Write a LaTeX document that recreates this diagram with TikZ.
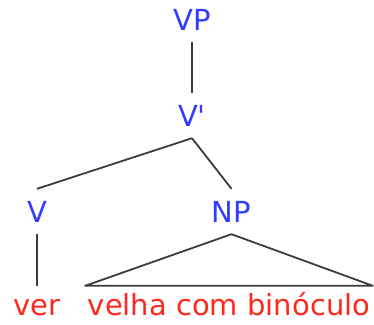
\documentclass[tikz,border=0pt]{standalone}
\usepackage{fontspec}
\newfontfamily\dejavu{DejaVu Sans}
\definecolor{catblue}{RGB}{50,60,255}
\definecolor{wordred}{RGB}{255,40,30}
\definecolor{edgegray}{RGB}{60,60,60}
\begin{document}
\begin{tikzpicture}[x=1pt,y=-1pt,
  cat/.style={anchor=base,text=catblue,font=\dejavu\fontsize{29}{30}\selectfont,
    text height=21pt,text depth=0pt,inner xsep=0pt,inner ysep=12pt},
  word/.style={anchor=base,text=wordred,font=\dejavu\fontsize{29}{30}\selectfont,
    text height=22pt,text depth=0pt,inner xsep=2.5pt,inner ysep=7pt},
  edge/.style={draw=edgegray,line width=1.8pt}]
\useasboundingbox (0,0) rectangle (374,324);
\node[cat] (VP) at (192,30) {VP};
\node[cat] (Vbar) at (192,126) {V'};
\node[cat] (V) at (37,222) {V};
\node[cat] (NP) at (231.5,222) {NP};
\node[word] (ver) at (37,315) {ver};
\node[word] (W) at (229,315) {velha com binóculo};
\draw[edge] (VP.south) -- (Vbar.north);
\draw[edge] (Vbar.south) -- (V.north);
\draw[edge] (Vbar.south) -- (NP.north);
\draw[edge] (V.south) -- (ver.north);
\draw[edge,line join=round] (NP.south) -- (W.north west) -- (W.north east) -- cycle;
\end{tikzpicture}
\end{document}
